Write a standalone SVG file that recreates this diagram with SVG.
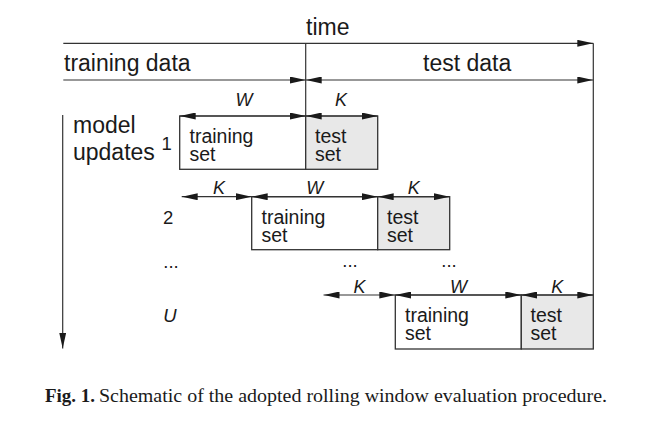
<svg xmlns="http://www.w3.org/2000/svg" width="656" height="433" viewBox="0 0 656 433">
<style>
.ln{stroke:#333;stroke-width:1.2;fill:none}
.arr{stroke:#333;stroke-width:1.2;fill:none;marker-start:url(#ah);marker-end:url(#ah)}
.arrE{stroke:#333;stroke-width:1.2;fill:none;marker-end:url(#ah)}
.box{fill:#fff;stroke:#333;stroke-width:1.3}
.tbox{fill:#e8e8e8;stroke:#333;stroke-width:1.3}
.big{font-family:"Liberation Sans",Arial,sans-serif;font-size:23px;fill:#1a1a1a}
.bt{font-family:"Liberation Sans",Arial,sans-serif;font-size:19.5px;fill:#1a1a1a}
.it{font-family:"Liberation Sans",Arial,sans-serif;font-size:18px;font-style:italic;fill:#1a1a1a;text-anchor:middle}
.num{font-family:"Liberation Sans",Arial,sans-serif;font-size:18.5px;fill:#1a1a1a}
.cap{font-family:"Liberation Serif","Times New Roman",serif;font-size:19.5px;fill:#1a1a1a}
</style>
<defs>
<marker id="ah" markerUnits="userSpaceOnUse" markerWidth="16" markerHeight="7" refX="16" refY="3.5" orient="auto-start-reverse" viewBox="0 0 16 7">
<path d="M0,0 L16,3.5 L0,7 z" fill="#1a1a1a"/>
</marker>
</defs>
<rect width="656" height="433" fill="#fff"/>

<g id="header">
<text class="big" x="306" y="35">time</text>
<text class="big" x="64" y="71">training data</text>
<text class="big" x="423" y="71">test data</text>
<text class="big" x="73" y="133">model</text>
<text class="big" x="73" y="160">updates</text>
</g>

<g id="row1-training"><rect class="box" x="179.7" y="116" width="126" height="53.3"/><text class="bt" x="189.5" y="143">training</text><text class="bt" x="189.5" y="161">set</text></g>
<g id="row1-test"><rect class="tbox" x="305.7" y="116" width="72" height="53.3"/><text class="bt" x="315" y="143">test</text><text class="bt" x="315" y="161">set</text></g>

<g id="row2-training"><rect class="box" x="251.7" y="196.7" width="126" height="53"/><text class="bt" x="261.5" y="224">training</text><text class="bt" x="261.5" y="241.7">set</text></g>
<g id="row2-test"><rect class="tbox" x="377.7" y="196.7" width="72" height="53"/><text class="bt" x="387" y="224">test</text><text class="bt" x="387" y="241.7">set</text></g>

<g id="rowU-training"><rect class="box" x="395.3" y="295" width="126" height="54"/><text class="bt" x="405" y="322">training</text><text class="bt" x="405" y="340">set</text></g>
<g id="rowU-test"><rect class="tbox" x="521.3" y="295" width="72" height="54"/><text class="bt" x="530.5" y="322">test</text><text class="bt" x="530.5" y="340">set</text></g>

<g id="row-labels">
<text class="num" x="161.5" y="150">1</text>
<text class="num" x="163" y="224">2</text>
<text class="it" x="170" y="321.7" style="font-size:18.5px">U</text>
<text class="num" x="171" y="267.5" text-anchor="middle">...</text>
<text class="num" x="350" y="267" text-anchor="middle">...</text>
<text class="num" x="449" y="267" text-anchor="middle">...</text>
</g>

<g id="dim-labels">
<text class="it" x="244" y="106">W</text>
<text class="it" x="341" y="106">K</text>
<text class="it" x="219" y="193.5">K</text>
<text class="it" x="314.7" y="193.5">W</text>
<text class="it" x="413.7" y="193.5">K</text>
<text class="it" x="359.5" y="292.5">K</text>
<text class="it" x="458.5" y="292.5">W</text>
<text class="it" x="557.3" y="292.5">K</text>
</g>

<g id="connectors">
<line class="arrE" x1="63.3" y1="43.3" x2="593.3" y2="43.3"/>
<line class="arrE" x1="63.3" y1="80" x2="305.7" y2="80"/>
<line class="arr" x1="305.7" y1="80" x2="593.3" y2="80"/>
<line class="ln" x1="305.7" y1="43.3" x2="305.7" y2="116"/>
<line class="ln" x1="593.3" y1="43.3" x2="593.3" y2="295"/>
<line class="arrE" x1="62.7" y1="115" x2="62.7" y2="348.5"/>
<line class="arr" x1="179.7" y1="116" x2="305.7" y2="116"/>
<line class="arr" x1="305.7" y1="116" x2="377.7" y2="116"/>
<line class="arr" x1="181.7" y1="196.7" x2="251.7" y2="196.7"/>
<line class="arr" x1="251.7" y1="196.7" x2="377.7" y2="196.7"/>
<line class="arr" x1="377.7" y1="196.7" x2="449.7" y2="196.7"/>
<line class="arr" x1="323.5" y1="295" x2="395.3" y2="295"/>
<line class="arr" x1="395.3" y1="295" x2="521.3" y2="295"/>
<line class="arr" x1="521.3" y1="295" x2="593.3" y2="295"/>
</g>

<g id="caption">
<text class="cap" x="45" y="401.5" font-weight="bold" textLength="50" lengthAdjust="spacingAndGlyphs">Fig. 1.</text>
<text class="cap" x="99" y="401.5" textLength="508" lengthAdjust="spacingAndGlyphs">Schematic of the adopted rolling window evaluation procedure.</text>
</g>
</svg>
